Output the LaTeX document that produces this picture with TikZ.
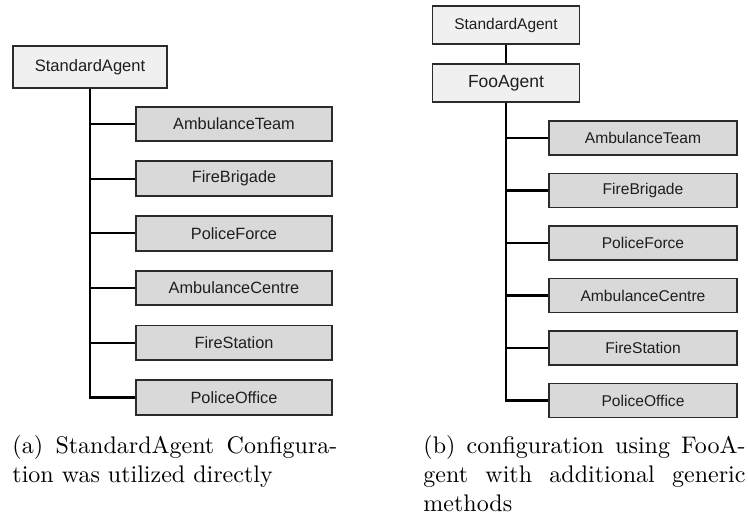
\documentclass[tikz,border=0pt]{standalone}
\usepackage{fontspec}
\newfontfamily\boxfont{Liberation Sans}
\definecolor{parentfill}{HTML}{F0F0F0}
\definecolor{childfill}{HTML}{D9D9D9}
\definecolor{edgecol}{HTML}{2B2B2B}
\definecolor{boxtext}{HTML}{1E1E1E}
\begin{document}
\begin{tikzpicture}[x=0.41667pt,y=-0.41667pt,
  basebox/.style={draw=edgecol,line width=0.8pt,inner sep=0pt,text=boxtext},
  parentbox/.style={basebox,fill=parentfill},
  childbox/.style={basebox,fill=childfill},
  lchild/.style={childbox,minimum width=81.7pt,minimum height=14.4pt,font=\boxfont\fontsize{6.8}{8}\selectfont},
  rchild/.style={childbox,minimum width=78.3pt,minimum height=14.2pt,font=\boxfont\fontsize{6.5}{8}\selectfont},
  link/.style={line width=0.85pt,black},
  captext/.style={anchor=north west,inner sep=0pt,align=justify,font=\fontsize{10}{12}\selectfont}]
\useasboundingbox (0,0) rectangle (748,518);

% ---- left tree (a)
\node[parentbox,minimum width=64.2pt,minimum height=17.3pt,font=\boxfont\fontsize{6.9}{8}\selectfont] (sa1) at (90,67) {StandardAgent};
\node[lchild] (at1) at (234,124) {AmbulanceTeam};
\node[lchild] (fb1) at (234,178.7) {FireBrigade};
\node[lchild] (pf1) at (234,233.4) {PoliceForce};
\node[lchild] (ac1) at (234,288.1) {AmbulanceCentre};
\node[lchild] (fs1) at (234,342.8) {FireStation};
\node[lchild] (po1) at (234,397.5) {PoliceOffice};
\draw[link] (sa1.south) -- (sa1.south |- po1.west) -- (po1.west);
\foreach \c in {at1,fb1,pf1,ac1,fs1}{
  \draw[link] (sa1.south |- \c.west) -- (\c.west);
}

% ---- right tree (b)
\node[parentbox,minimum width=61.25pt,minimum height=15.8pt,font=\boxfont\fontsize{6.45}{8}\selectfont] (sa2) at (506,25) {StandardAgent};
\node[parentbox,minimum width=61.25pt,minimum height=15.8pt,font=\boxfont\fontsize{7.3}{9}\selectfont] (foo) at (506,83) {FooAgent};
\node[rchild] (at2) at (643,138) {AmbulanceTeam};
\node[rchild] (fb2) at (643,190.5) {FireBrigade};
\node[rchild] (pf2) at (643,243) {PoliceForce};
\node[rchild] (ac2) at (643,295.5) {AmbulanceCentre};
\node[rchild] (fs2) at (643,348) {FireStation};
\node[rchild] (po2) at (643,400.5) {PoliceOffice};
\draw[link] (sa2.south) -- (foo.north);
\draw[link] (foo.south) -- (foo.south |- po2.west) -- (po2.west);
\foreach \c in {at2,fb2,pf2,ac2,fs2}{
  \draw[link] (foo.south |- \c.west) -- (\c.west);
}

% ---- captions
\node[captext,text width=135.4pt] (capa) at (12,435)
  {(a) StandardAgent Configura-\linebreak tion was utilized directly};
\node[captext,text width=134.2pt] (capb) at (423,435)
  {(b) configuration using FooA-\linebreak gent with additional generic\linebreak methods};
\end{tikzpicture}
\end{document}
